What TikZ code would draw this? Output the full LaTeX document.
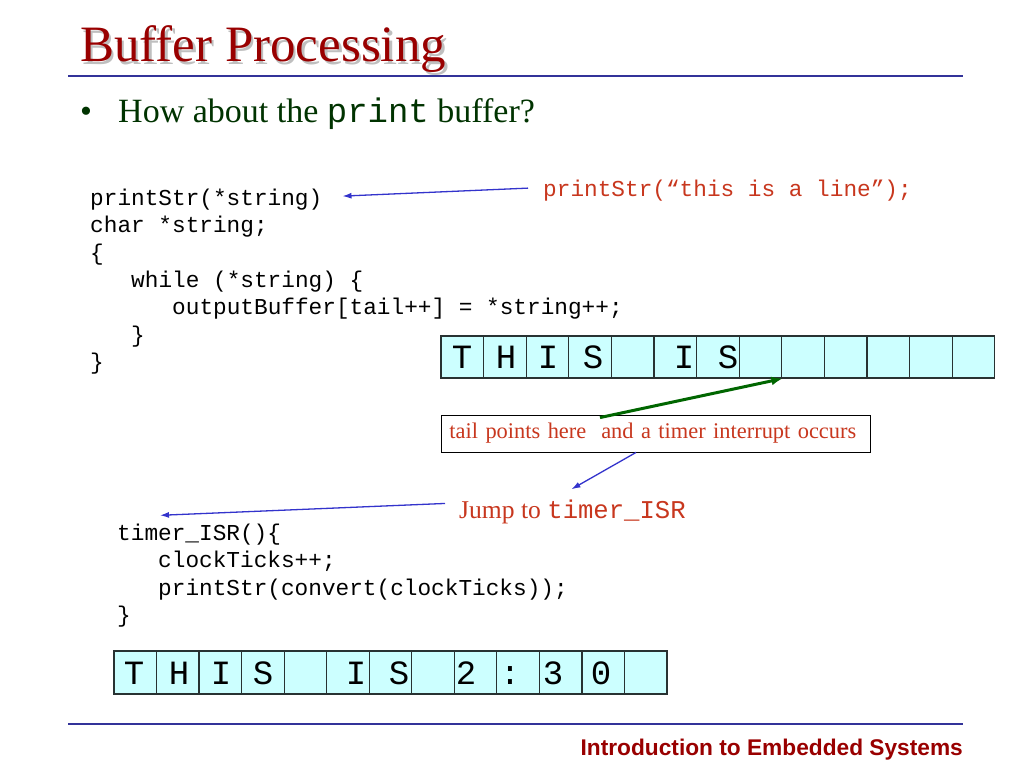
\documentclass[tikz,border=0pt]{standalone}
\usepackage{fontspec}
\setmainfont{Liberation Serif}
\setsansfont{Liberation Sans}
\setmonofont{Liberation Mono}
\usetikzlibrary{arrows.meta,calc}
\definecolor{titlered}{RGB}{153,0,0}
\definecolor{rulecol}{RGB}{51,51,153}
\definecolor{bodygreen}{RGB}{0,51,0}
\definecolor{callred}{RGB}{200,55,30}
\definecolor{arrowblue}{RGB}{51,51,204}
\definecolor{arrowgreen}{RGB}{0,102,0}
\definecolor{cellfill}{RGB}{204,255,255}
\definecolor{celldraw}{RGB}{40,50,50}
\tikzset{
  titletext/.style={anchor=base west,inner sep=0pt,font=\fontsize{51}{60}\selectfont},
  bodytext/.style={anchor=base west,inner sep=0pt,text=bodygreen,font=\fontsize{34}{40}\selectfont},
  codeline/.style={anchor=base west,inner sep=0pt,font=\ttfamily\fontsize{22.75}{27}\selectfont},
  calltext/.style={anchor=base west,inner sep=0pt,text=callred,font=\ttfamily\fontsize{22.75}{27}\selectfont},
  cell/.style={draw=celldraw,line width=1.2pt,fill=cellfill,minimum width=42.6pt,minimum height=42pt,inner sep=0pt},
  lett/.style={anchor=base,inner sep=0pt,font=\ttfamily\fontsize{34}{40}\selectfont},
  notebox/.style={draw=black,line width=0.9pt,fill=white,text=callred,font=\fontsize{22.4}{26}\selectfont,
    text width=413pt,align=left,inner xsep=8pt,minimum height=37pt,anchor=west},
  jumptext/.style={anchor=base west,inner sep=0pt,text=callred,font=\fontsize{25.6}{30}\selectfont},
  bluearrow/.style={draw=arrowblue,line width=1.3pt,-{Latex[length=9pt,width=6pt]}},
  greenarrow/.style={draw=arrowgreen,line width=3pt,-{Latex[length=11pt,width=9pt]}},
  rulestyle/.style={draw=rulecol,line width=1.6pt},
}
\begin{document}
\begin{tikzpicture}[x=1pt,y=-1pt]
\useasboundingbox (0,0) rectangle (1024,768);
\fill[white] (0,0) rectangle (1024,768);

% title
\node[titletext,text=black!25] (tshadow) at (82.5,64.5) {Buffer Processing};
\node[titletext,text=titlered] (title) at (80,62) {Buffer Processing};
\coordinate (r1a) at (68,76);
\coordinate (r1b) at (963,76);
\draw[rulestyle] (r1a) -- (r1b);

% bullet
\node[bodytext] (bul) at (80,122) {•};
\node[bodytext] (q) at (118,122) {How about the \texttt{print} buffer?};

% first code block
\node[codeline] (c1) at (90,205) {printStr(*string)};
\node[codeline] (c2) at (90,232.5) {char *string;};
\node[codeline] (c3) at (90,260) {\{};
\node[codeline] (c4) at (131,287) {while (*string) \{};
\node[codeline] (c5) at (172,314.5) {outputBuffer[tail++] = *string++;};
\node[codeline] (c6) at (131,342) {\}};
\node[codeline] (c7) at (90,369) {\}};

\node[calltext] (call) at (543,196) {printStr(“this is a line”);};
\draw[bluearrow] ($(call.west)+(-15,-2)$) -- ($(c1.east)+(20,-3)$);

% top buffer
\foreach \i in {1,...,13}
  \node[cell] (a\i) at ({441+42.6*(\i-0.5)},357) {};
\foreach \ch/\x [count=\k] in {T/462,H/506,I/548,S/593,I/684,S/728}
  \node[lett] (la\k) at (\x,368) {\ch};

% note box
\node[notebox] (note) at (441,433.5) {tail points here\ \ and a timer interrupt occurs};
\draw[greenarrow] ($(note.north west)+(159,3)$) -- (a8.south east);

% jump
\node[jumptext] (jump) at (459,518) {Jump to \texttt{timer\_ISR}};
\draw[bluearrow] ($(note.south west)+(195,0)$) -- ($(jump.north)+(-1,-10)$);

% timer code
\node[codeline] (d1) at (117,540) {timer\_ISR()\{};
\node[codeline] (d2) at (158,567.5) {clockTicks++;};
\node[codeline] (d3) at (158,595) {printStr(convert(clockTicks));};
\node[codeline] (d4) at (117,622.5) {\}};
\draw[bluearrow] ($(jump.west)+(-14,-8)$) -- ($(d1.north west)+(43,-8)$);

% bottom buffer
\foreach \i in {1,...,13}
  \node[cell,minimum height=43pt] (b\i) at ({114+42.54*(\i-0.5)},672.5) {};
\foreach \ch/\x [count=\k] in {T/134,H/179,I/221,S/263,I/356,S/399,2/466,:/510,3/553,0/601}
  \node[lett] (lb\k) at (\x,684.5) {\ch};

% footer
\coordinate (r2a) at (68,724);
\coordinate (r2b) at (963,724);
\draw[rulestyle] (r2a) -- (r2b);
\node[anchor=base east,inner sep=0pt,text=titlered,font=\sffamily\bfseries\fontsize{22.7}{26}\selectfont] (foot) at (963,755) {Introduction to Embedded Systems};
\end{tikzpicture}
\end{document}
